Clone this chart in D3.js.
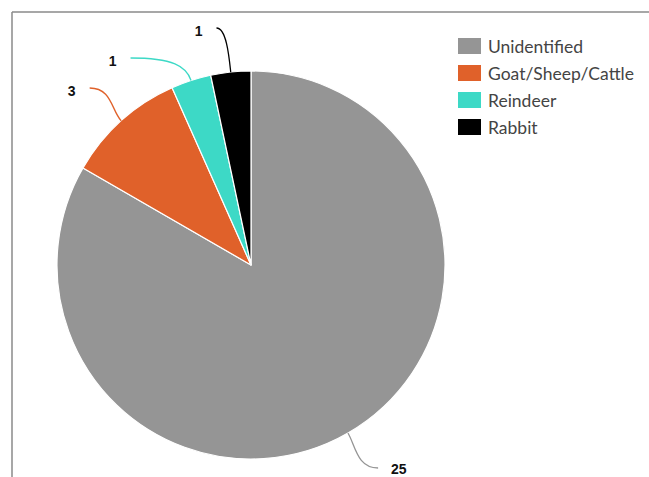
<!DOCTYPE html>
<html>
<head>
<meta charset="utf-8">
<script src="https://cdn.jsdelivr.net/npm/d3@7/dist/d3.min.js"></script>
<style>
  html, body { margin: 0; padding: 0; background: #fff; }
  svg { display: block; }
</style>
</head>
<body>
<div id="chart"></div>
<script>
const categories = ["Unidentified", "Goat/Sheep/Cattle", "Reindeer", "Rabbit"];
const values = [25, 3, 1, 1];
const colors = ["#959595", "#e0612a", "#3dd9c6", "#000000"];

const W = 649, H = 477;
const cx = 251, cy = 265, r = 194;
const labelR = 239.5;

const svg = d3.select("#chart").append("svg").attr("width", W).attr("height", H);

// frame
svg.append("line").attr("x1", 12).attr("y1", 12).attr("x2", W).attr("y2", 12)
  .attr("stroke", "#8a8a8a").attr("stroke-width", 1.5);
svg.append("line").attr("x1", 12).attr("y1", 12).attr("x2", 12).attr("y2", H)
  .attr("stroke", "#8a8a8a").attr("stroke-width", 1.5);

const data = categories.map((c, i) => ({ name: c, value: values[i], color: colors[i] }));
const pie = d3.pie().sort(null).value(d => d.value);
const arcs = pie(data);
const arcGen = d3.arc().innerRadius(0).outerRadius(r);

const g = svg.append("g").attr("transform", `translate(${cx},${cy})`);
g.selectAll("path.slice").data(arcs).enter().append("path")
  .attr("class", "slice")
  .attr("d", arcGen)
  .attr("fill", d => d.data.color)
  .attr("stroke", "#ffffff")
  .attr("stroke-width", 1.2)
  .attr("stroke-linejoin", "round");

// label layout
const labels = arcs.map(a => {
  const ang = (a.startAngle + a.endAngle) / 2;
  const dir = [Math.sin(ang), -Math.cos(ang)];
  return {
    a, ang, dir,
    left: dir[0] < 0,
    ny: cy + dir[1] * labelR
  };
});
const minY = 28, maxY = 468, gap = 30;
[true, false].forEach(side => {
  const L = labels.filter(l => l.left === side).sort((p, q) => p.ny - q.ny);
  let prev = -Infinity;
  L.forEach(l => {
    let y = Math.max(l.ny, minY, prev + gap);
    y = Math.min(y, maxY);
    l.y = y;
    prev = y;
  });
});
labels.forEach(l => {
  const dy = l.y - cy;
  const dx = Math.sqrt(Math.max(0, labelR * labelR - dy * dy));
  l.x = l.left ? cx - dx : cx + dx;
  l.ex = cx + l.dir[0] * r;
  l.ey = cy + l.dir[1] * r;
});

const lg = svg.append("g");
lg.selectAll("path.conn").data(labels).enter().append("path")
  .attr("class", "conn")
  .attr("fill", "none")
  .attr("stroke", d => d.a.data.color)
  .attr("stroke-width", 1.3)
  .attr("d", d => {
    const c1x = d.x + (d.ex - d.x) * 0.7, c1y = d.y;
    const c2x = d.ex + d.dir[0] * 15, c2y = d.ey + d.dir[1] * 15;
    return `M${d.x},${d.y} C${c1x},${c1y} ${c2x},${c2y} ${d.ex},${d.ey}`;
  });

lg.selectAll("text.lbl").data(labels).enter().append("text")
  .attr("class", "lbl")
  .attr("x", d => d.left ? d.x - 14 : d.x + 13)
  .attr("y", d => d.y + (d.left ? 3 : 1))
  .attr("dominant-baseline", "central")
  .attr("text-anchor", d => d.left ? "end" : "start")
  .attr("font-family", "'Liberation Sans', Arial, sans-serif")
  .attr("font-weight", "bold")
  .attr("font-size", 14)
  .attr("fill", "#111")
  .text(d => d.a.data.value);

// legend
const leg = svg.append("g").attr("transform", "translate(458,38)");
const item = leg.selectAll("g.item").data(data).enter().append("g")
  .attr("class", "item")
  .attr("transform", (d, i) => `translate(0,${i * 27})`);
item.append("rect").attr("width", 23).attr("height", 16).attr("fill", d => d.color);
item.append("text")
  .attr("x", 30).attr("y", 8)
  .attr("dominant-baseline", "central")
  .attr("font-family", "Lato, 'Open Sans', sans-serif")
  .attr("font-size", 17.5)
  .attr("fill", "#444")
  .text(d => d.name);
</script>
</body>
</html>
